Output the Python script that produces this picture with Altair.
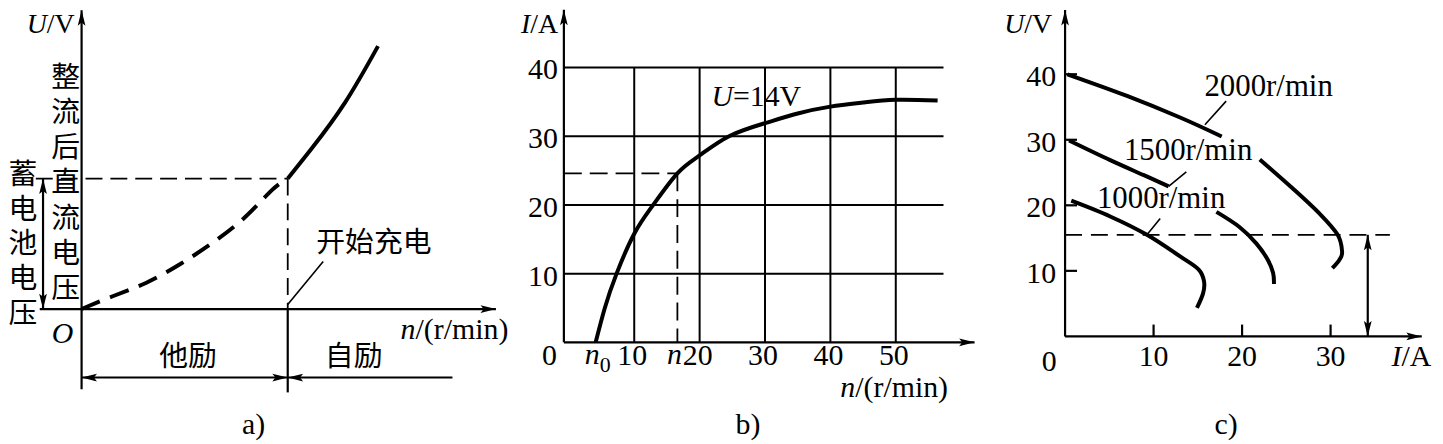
import altair as alt
import pandas as pd

W, H = 1435, 436
SERIF = "Liberation Serif"
CJK = "Noto Sans CJK SC"
FS = 30
CJK_FS = 29

# ---------------- data ----------------
# a) rectified DC voltage vs speed (schematic units, knee = battery voltage)
A_N_EXT = [0, 1.51, 3.12, 4.73, 6.33, 7.95, 9.23, 10]        # separately excited (dashed)
A_U_EXT = [0, 0.98, 2.0, 3.39, 5.05, 7.07, 9.11, 10]
A_N_SELF = [10, 11.16, 12.77, 14.38]                        # self excited (solid)
A_U_SELF = [10, 12.3, 15.8, 20.15]
A_N_KNEE = 10
A_U_BATT = 10
A_COL_RECT = "整流后直流电压"
A_COL_BATT = "蓄电池电压"
A_LBL_CHARGE = "开始充电"
A_LBL_SEP = "他励"
A_LBL_SELF = "自励"

# b) output current vs speed at U = 14 V
B_N = [4.1, 5.5, 7.3, 10, 12.9, 16.6, 20, 24.5, 30, 35, 40, 45, 50, 56.4]
B_I = [0, 5, 10, 15.8, 20, 24.6, 27.2, 30, 31.9, 33.3, 34.3, 34.9, 35.3, 35.2]
B_N0 = 4.1
B_N_OP = 16.6
B_I_OP = 24.6
B_XTICKS = [10, 20, 30, 40, 50]
B_YTICKS = [10, 20, 30, 40]

# c) external characteristics U-I
C_I_2000_A = [0.26, 7.0, 13.0, 17.7]
C_U_2000_A = [40.0, 36.7, 33.4, 30.5]
C_I_2000_B = [22.0, 25.7, 28.7, 30.8, 31.3, 31.0, 30.2]
C_U_2000_B = [27.0, 22.6, 18.8, 15.5, 12.9, 11.7, 10.4]
C_I_1500_A = [0.45, 5.1, 8.9, 11.7]
C_U_1500_A = [29.9, 26.9, 24.6, 22.9]
C_I_1500_B = [17.1, 19.7, 21.6, 22.9, 23.5, 23.6]
C_U_1500_B = [19.0, 16.7, 14.2, 11.7, 9.7, 8.0]
C_I_1000 = [0.7, 5.1, 9.25, 13.0, 15.1, 15.7, 15.6, 14.9]
C_U_1000 = [20.7, 18.3, 15.5, 12.2, 10.2, 8.4, 6.6, 4.35]
C_SPEEDS = ["2000r/min", "1500r/min", "1000r/min"]
C_LBL_I = [23.0, 13.9, 10.85]
C_LBL_U = [36.7, 26.9, 19.6]
C_LEAD_I = [(15.8, 18.2), (11.7, 13.7), (9.25, 10.75)]
C_LEAD_U = [(32.3, 35.9), (22.9, 25.1), (15.5, 18.0)]
C_U_REF = 15.5
C_XTICKS = [10, 20, 30]
C_YTICKS = [10, 20, 30, 40]


# ---------------- layout ----------------
class Panel:
    def __init__(self, ox, oy, kx, ky):
        ox -= 8
        oy -= 8
        self.X = [-ox / kx, (W - ox) / kx]
        self.Y = [-(H - oy) / ky, oy / ky]


PA = Panel(82, 309.5, 20.73, 13.12)
PB = Panel(572, 343, 6.575, 6.91)
PC = Panel(1071, 337, 8.9, 6.59)

ARROW = "M0,0L0.5,2L0,1.6L-0.5,2Z"
layers = []


def enc(P):
    return dict(
        x=alt.X("x:Q", scale=alt.Scale(domain=P.X, nice=False, zero=False), axis=None),
        y=alt.Y("y:Q", scale=alt.Scale(domain=P.Y, nice=False, zero=False), axis=None),
    )


def lines(P, segs, width=2.0, dash=None, interp="linear"):
    rows = []
    for g, (xs, ys) in enumerate(segs):
        for o, (x, y) in enumerate(zip(xs, ys)):
            rows.append({"x": x, "y": y, "o": o, "g": g})
    kw = dict(color="black", strokeWidth=width, interpolate=interp, strokeCap="butt")
    if dash:
        kw["strokeDash"] = dash
    layers.append(
        alt.Chart(pd.DataFrame(rows)).mark_line(**kw).encode(**enc(P), order="o:Q", detail="g:N")
    )


def arrows(P, pts, size=240):
    df = pd.DataFrame(pts, columns=["x", "y", "a"])
    layers.append(
        alt.Chart(df)
        .mark_point(shape=ARROW, filled=True, color="black", opacity=1, size=size, strokeWidth=0)
        .encode(**enc(P), angle=alt.Angle("a:Q", scale=None))
    )


def text(P, xs, ys, ts, size=FS, font=SERIF, italic=False, align="center",
         baseline="alphabetic", dx=0, dy=0):
    df = pd.DataFrame({"x": xs, "y": ys, "t": ts})
    kw = dict(font=font, fontSize=size, align=align, baseline=baseline, color="black",
              dx=dx, dy=dy, fontStyle="italic" if italic else "normal")
    layers.append(alt.Chart(df).mark_text(**kw).encode(**enc(P), text="t:N"))


def column(P, x, y0, step, label):
    chars = list(label)
    text(P, [x] * len(chars), [y0 - i * step for i in range(len(chars))], chars,
         size=CJK_FS, font=CJK, baseline="middle")


# ---------------- panel a ----------------
lines(PA, [
    ([0, 0], [-6.14, 22.9]),                 # U axis
    ([-2.03, 20.1], [0, 0]),                 # n axis
    ([A_N_KNEE, A_N_KNEE], [0, -6.39]),      # divider below axis
    ([0, 17.99], [-5.25, -5.25]),            # excitation range line
    ([-1.87, -1.87], [0, A_U_BATT]),         # battery voltage arrow
], width=2.2)
lines(PA, [([A_N_KNEE, 11.72], [0.34, 3.64])], width=1.6)
lines(PA, [([-2.22, A_N_KNEE], [A_U_BATT, A_U_BATT]),
           ([A_N_KNEE, A_N_KNEE], [A_U_BATT, 0])], width=1.8, dash=[17, 8])
lines(PA, [(A_N_EXT, A_U_EXT)], width=4, dash=[20, 11], interp="natural")
lines(PA, [(A_N_SELF, A_U_SELF)], width=4, interp="natural")
arrows(PA, [(0, 22.9, 0), (20.1, 0, 90), (-1.87, A_U_BATT, 0), (-1.87, 0, 180),
            (0, -5.25, 270), (A_N_KNEE, -5.25, 90), (A_N_KNEE, -5.25, 270)])
text(PA, [-1.69], [21.15], ["U"], size=28, italic=True, align="right")
text(PA, [-1.69], [21.15], ["/V"], size=28, align="left")
text(PA, [-0.92], [-2.58], ["O"], italic=True)
text(PA, [16.2], [-2.32], ["n"], italic=True, align="right")
text(PA, [16.2], [-2.32], ["/(r/min)"], align="left")
text(PA, [8.34], [-9.57], ["a)"])
column(PA, -0.77, 17.72, 2.698, A_COL_RECT)
column(PA, -2.85, 10.29, 2.668, A_COL_BATT)
text(PA, [14.18], [5.03], [A_LBL_CHARGE], size=CJK_FS, font=CJK, baseline="middle")
text(PA, [5.16, 13.2], [-3.67, -3.67], [A_LBL_SEP, A_LBL_SELF], size=CJK_FS, font=CJK,
     baseline="middle")

# ---------------- panel b ----------------
BX0 = -0.76
lines(PB, [([v, v], [0, 40]) for v in B_XTICKS]
      + [([BX0, 57.3], [v, v]) for v in B_YTICKS], width=2)
lines(PB, [([BX0, BX0], [0, 48.4]), ([BX0, 62.05], [0, 0])], width=2.2)
lines(PB, [([BX0, B_N_OP], [B_I_OP, B_I_OP]), ([B_N_OP, B_N_OP], [B_I_OP, 0])],
      width=1.8, dash=[18, 8])
lines(PB, [(B_N, B_I)], width=4, interp="natural")
arrows(PB, [(BX0, 48.4, 0), (62.05, 0, 90)])
text(PB, [-1.69] * len(B_YTICKS), B_YTICKS, [str(v) for v in B_YTICKS], align="right",
     baseline="middle", dy=3)
text(PB, B_XTICKS, [-3.33] * len(B_XTICKS), [str(v) for v in B_XTICKS], dx=-2)
text(PB, [-2.96], [-3.33], ["0"])
text(PB, [B_N0], [-3.19], ["n"], italic=True, align="right", dx=4)
text(PB, [B_N0], [-4.35], ["0"], size=22, align="left", dx=4)
text(PB, [B_N_OP], [-3.19], ["n"], italic=True, dx=-3)
text(PB, [-5.9], [45.0], ["I"], size=28, italic=True, align="right")
text(PB, [-5.9], [45.0], ["/A"], size=28, align="left")
text(PB, [25.1], [34.4], ["U"], italic=True, align="right")
text(PB, [25.1], [34.4], ["=14V"], align="left")
text(PB, [43.8], [-7.96], ["n"], italic=True, align="right")
text(PB, [43.8], [-7.96], ["/(r/min)"], align="left")
text(PB, [27.4], [-13.3], ["b)"])

# ---------------- panel c ----------------
lines(PC, [([0, 0], [0, 49.8]), ([0, 40.3], [0, 0]), ([34.2, 34.2], [0, C_U_REF])]
      + [([0, 1.35], [v, v]) for v in C_YTICKS]
      + [([v, v], [0, 1.8]) for v in C_XTICKS], width=2.2)
lines(PC, [([a, b], [c, d]) for (a, b), (c, d) in zip(C_LEAD_I, C_LEAD_U)], width=1.6)
lines(PC, [([0, 36.7], [C_U_REF, C_U_REF])], width=1.8, dash=[17, 9])
lines(PC, [(C_I_2000_A, C_U_2000_A), (C_I_2000_B, C_U_2000_B),
           (C_I_1500_A, C_U_1500_A), (C_I_1500_B, C_U_1500_B),
           (C_I_1000, C_U_1000)], width=4, interp="cardinal")
arrows(PC, [(0, 49.8, 0), (40.3, 0, 90), (34.2, C_U_REF, 0), (34.2, 0, 180)])
text(PC, [-1.01] * len(C_YTICKS), C_YTICKS, [str(v) for v in C_YTICKS], align="right",
     baseline="middle", dy=3)
text(PC, C_XTICKS, [-4.55] * len(C_XTICKS), [str(v) for v in C_XTICKS])
text(PC, [-1.8], [-5.3], ["0"])
text(PC, C_LBL_I, C_LBL_U, C_SPEEDS, size=31)
text(PC, [38.0], [-4.55], ["I"], italic=True, align="right")
text(PC, [38.0], [-4.55], ["/A"], align="left")
text(PC, [-4.6], [46.3], ["U"], size=28, italic=True, align="right")
text(PC, [-4.6], [46.3], ["/V"], size=28, align="left")
text(PC, [18.2], [-14.9], ["c)"])

chart = (
    alt.layer(*layers)
    .resolve_scale(x="independent", y="independent")
    .properties(width=W, height=H, padding=0, autosize="none", background="white")
    .configure_view(stroke=None)
)
chart.save("out.html", embed_options={"renderer": "svg", "actions": False})
